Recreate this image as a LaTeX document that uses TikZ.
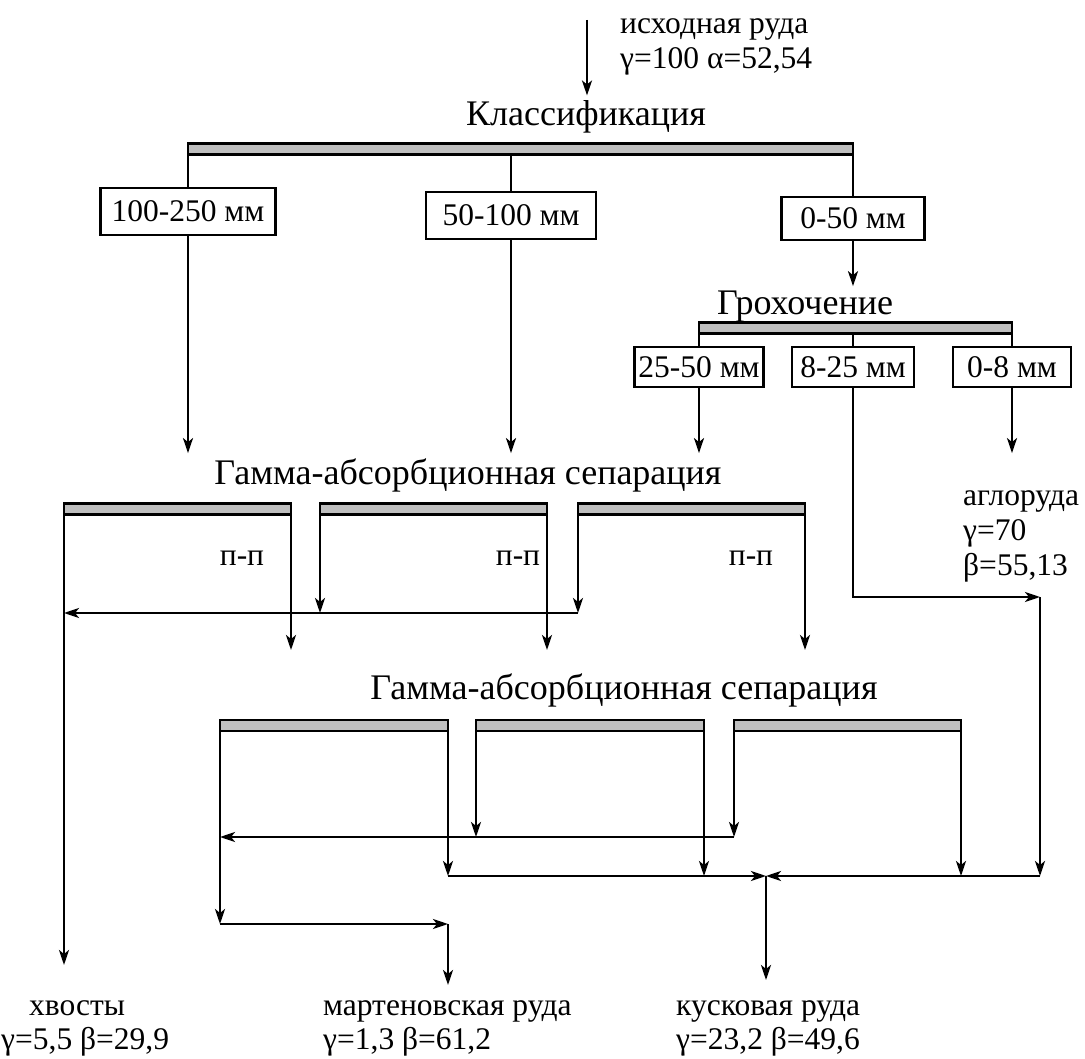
\documentclass[tikz,border=0pt]{standalone}
\usepackage{fontspec}
\setmainfont{Liberation Serif}
\usetikzlibrary{arrows.meta}

\begin{document}
\begin{tikzpicture}[x=1pt,y=-1pt,line width=2.4pt,
  >={Stealth[length=15pt,width=10pt,inset=4pt]},
  ttl/.style={font=\fontsize{36}{40}\selectfont,inner sep=4pt},
  lbl/.style={font=\fontsize{31.5}{35}\selectfont,inner sep=0pt,align=left},
  res/.style={font=\fontsize{31.5}{34}\selectfont,inner sep=0pt,align=left,anchor=south west},
  sz/.style={draw,font=\fontsize{31.5}{35}\selectfont,inner sep=0pt,outer sep=0pt,minimum width=#1},
  bar/.style={draw,line width=2.8pt,fill=gray!50,inner sep=0pt,outer sep=0pt,minimum height=11pt,minimum width=#1}]

\useasboundingbox (0,0) rectangle (1085,1059);

\node[lbl,anchor=west](feed) at (619,47){исходная руда\\γ=100 α=52,54};
\coordinate (src) at (587,20);
\node[ttl](cls) at (586,117){Классификация};
\node[bar=665](bar1) at (520.5,149){};
\node[sz=175,minimum height=47](w1) at (188,211.5){100-250 мм};
\node[sz=170,minimum height=47](w2) at (511,215.5){50-100 мм};
\node[sz=143,minimum height=43](w3) at (853,218.5){0-50 мм};

\node[ttl](grh) at (805,307){Грохочение};
\node[bar=313](bar2) at (855.5,328){};
\node[sz=129,minimum height=40](k1) at (699,367){25-50 мм};
\node[sz=122,minimum height=40](k2) at (853,367){8-25 мм};
\node[sz=118,minimum height=40](k3) at (1012,367){0-8 мм};
\node[lbl,anchor=west](aglo) at (962,536){аглоруда\\γ=70\\β=55,13};

\node[ttl](gs1) at (468,475){Гамма-абсорбционная сепарация};
\node[bar=227](sa) at (177.5,509){};
\node[bar=227](sb) at (433.5,509){};
\node[bar=227](sc) at (691.5,509){};
\node[lbl](pa) at (242,558){п-п};
\node[lbl](pb) at (518,558){п-п};
\node[lbl](pc) at (751,558){п-п};

\node[ttl](gs2) at (624,690){Гамма-абсорбционная сепарация};
\node[bar=228](sd) at (334,725.5){};
\node[bar=228](se) at (590,725.5){};
\node[bar=227](sf) at (847.5,725.5){};

\node[res](tails) at (0,1057){\hspace*{28pt}хвосты\\γ=5,5 β=29,9};
\node[res](mart) at (322,1057){мартеновская руда\\γ=1,3 β=61,2};
\node[res](lump) at (675,1057){кусковая руда\\γ=23,2 β=49,6};

\coordinate (ret1) at (0,613);
\coordinate (out1) at (0,650);
\coordinate (turn) at (1040,597);
\coordinate (ret2) at (0,837);
\coordinate (join) at (766,876);
\coordinate (mrt) at (448,924);
\coordinate (tailend) at (64,965);
\coordinate (mrtend) at (448,985);
\coordinate (lumpend) at (766,980);

\draw[->] (src)--(src |- cls.north);
\draw (bar1.south west)--(w1.north) (w2.north)--(w2.north |- bar1.south) (bar1.south east)--(w3.north);
\draw[->] (w3.south)--(w3.south |- grh.north);
\draw (bar2.south west)--(k1.north) (k2.north)--(k2.north |- bar2.south) (bar2.south east)--(k3.north);

\draw[->] (w1.south)--(w1.south |- gs1.north);
\draw[->] (w2.south)--(w2.south |- gs1.north);
\draw[->] (k1.south)--(k1.south |- gs1.north);
\draw[->] (k3.south)--(k3.south |- gs1.north);
\draw[->] (k2.south)|-(turn);

\draw[->] (sa.south west)--(tailend);
\draw[->] (sb.south west)--(sb.south west |- ret1);
\draw[->] (sc.south west)--(sc.south west |- ret1);
\draw[->] (sc.south west |- ret1)--(sa.south west |- ret1);
\draw[->] (sa.south east)--(sa.south east |- out1);
\draw[->] (sb.south east)--(sb.south east |- out1);
\draw[->] (sc.south east)--(sc.south east |- out1);

\draw[->] (se.south west)--(se.south west |- ret2);
\draw[->] (sf.south west)--(sf.south west |- ret2);
\draw[->] (sf.south west |- ret2)--(sd.south west |- ret2);
\draw[->] (sd.south east)--(sd.south east |- join);
\draw[->] (se.south east)--(se.south east |- join);
\draw[->] (sf.south east)--(sf.south east |- join);
\draw[->] (turn)--(turn |- join);
\draw[->] (sd.south east |- join)--(join);
\draw[->] (turn |- join)--(join);
\draw[->] (join)--(lumpend);
\draw[->] (sd.south west)--(sd.south west |- mrt);
\draw[->] (sd.south west |- mrt)--(mrt);
\draw[->] (mrt)--(mrtend);

\end{tikzpicture}
\end{document}
